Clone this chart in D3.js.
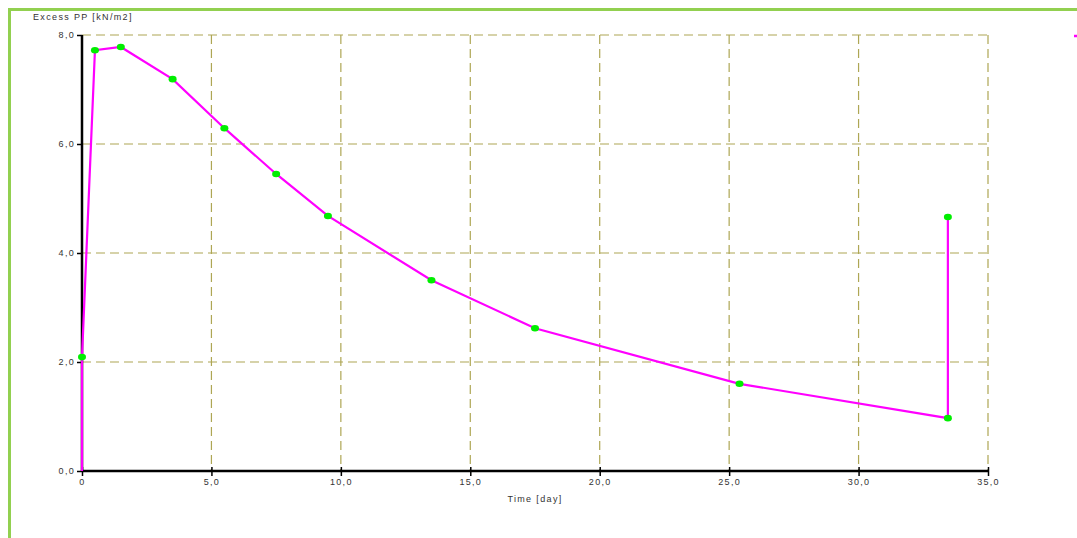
<!DOCTYPE html>
<html><head><meta charset="utf-8">
<script src="https://cdn.jsdelivr.net/npm/d3@7"></script>
<style>
body{margin:0;background:#fff;}
svg{display:block;}
text{font-family:"Liberation Sans",Arial,sans-serif;fill:#333;}
</style></head>
<body>
<svg id="c" width="1077" height="538"></svg>
<script>
const timeDays = [0, 0, 0.5, 1.5, 3.5, 5.5, 7.5, 9.5, 13.5, 17.5, 25.4, 33.45, 33.45];
const excessPP = [0, 2.09, 7.72, 7.78, 7.19, 6.29, 5.45, 4.68, 3.50, 2.62, 1.60, 0.97, 4.66];
const showMarker = [false, true, true, true, true, true, true, true, true, true, true, true, true];
const xTicks = [0, 5, 10, 15, 20, 25, 30, 35];
const yTicks = [0, 2, 4, 6, 8];
const xTitle = "Time [day]";
const yTitle = "Excess PP [kN/m2]";

const svg = d3.select("#c");
const x = d3.scaleLinear().domain([0, 35]).range([82, 988]);
const y = d3.scaleLinear().domain([0, 8]).range([471, 35]);
const fmt = v => v === 0 ? "0" : d3.format(".1f")(v).replace(".", ",");
const fmtY = v => d3.format(".1f")(v).replace(".", ",");

// green frame
svg.append("rect").attr("x", 9.5).attr("y", 9.5).attr("width", 1200).attr("height", 600)
  .attr("fill", "none").attr("stroke", "#92d050").attr("stroke-width", 3);

// grid
const grid = svg.append("g").attr("stroke", "#aea654").attr("stroke-width", 1.2).attr("stroke-dasharray", "9,5");
xTicks.filter(d => d > 0).forEach(d => grid.append("line")
  .attr("x1", x(d)).attr("x2", x(d)).attr("y1", y(8)).attr("y2", y(0)));
yTicks.filter(d => d > 0).forEach(d => grid.append("line")
  .attr("x1", x(0)).attr("x2", x(35)).attr("y1", y(d)).attr("y2", y(d)));

// axes
const xAxis = d3.axisBottom(x).tickValues(xTicks).tickFormat(fmt).tickSize(5).tickPadding(3);
const gx = svg.append("g").attr("transform", `translate(0,${y(0)})`).call(xAxis);
gx.select(".domain").attr("stroke", "#000").attr("stroke-width", 2.5).attr("d", `M${x(0)},0H${x(35)}`);
gx.selectAll(".tick line").attr("stroke", "#000").attr("stroke-width", 1.5).attr("y1", -4);
gx.selectAll(".tick text").style("font-size", "9px").style("letter-spacing", "1.3px").attr("fill", "#333");

const yAxis = d3.axisLeft(y).tickValues(yTicks).tickFormat(fmtY).tickSize(5).tickPadding(2);
const gy = svg.append("g").attr("transform", `translate(${x(0)},0)`).call(yAxis);
gy.select(".domain").attr("stroke", "#000").attr("stroke-width", 2.5).attr("d", `M0,${y(8)}V${y(0)}`);
gy.selectAll(".tick line").attr("stroke", "#000").attr("stroke-width", 1.5);
gy.selectAll(".tick text").style("font-size", "9px").style("letter-spacing", "1.3px").attr("fill", "#333");

// titles
svg.append("text").attr("x", 33).attr("y", 20).style("font-size", "9px").style("letter-spacing", "1.35px").text(yTitle);
svg.append("text").attr("x", (x(0) + x(35)) / 2).attr("y", 502).attr("text-anchor", "middle")
  .style("font-size", "9px").style("letter-spacing", "1.35px").text(xTitle);

// data
const pts = timeDays.map((t, i) => ({t, v: excessPP[i], m: showMarker[i]}));
const line = d3.line().x(d => x(d.t)).y(d => y(d.v));
svg.append("path").datum(pts).attr("d", line).attr("fill", "none")
  .attr("stroke", "#ff00ff").attr("stroke-width", 2.2);
svg.selectAll("ellipse.m").data(pts.filter(d => d.m)).enter().append("ellipse")
  .attr("cx", d => x(d.t)).attr("cy", d => y(d.v)).attr("rx", 4).attr("ry", 3.3)
  .attr("fill", "#00ee00");

// legend marker
svg.append("line").attr("x1", 1074).attr("x2", 1077).attr("y1", 36).attr("y2", 36)
  .attr("stroke", "#ff00ff").attr("stroke-width", 2.5);
</script>
</body></html>
